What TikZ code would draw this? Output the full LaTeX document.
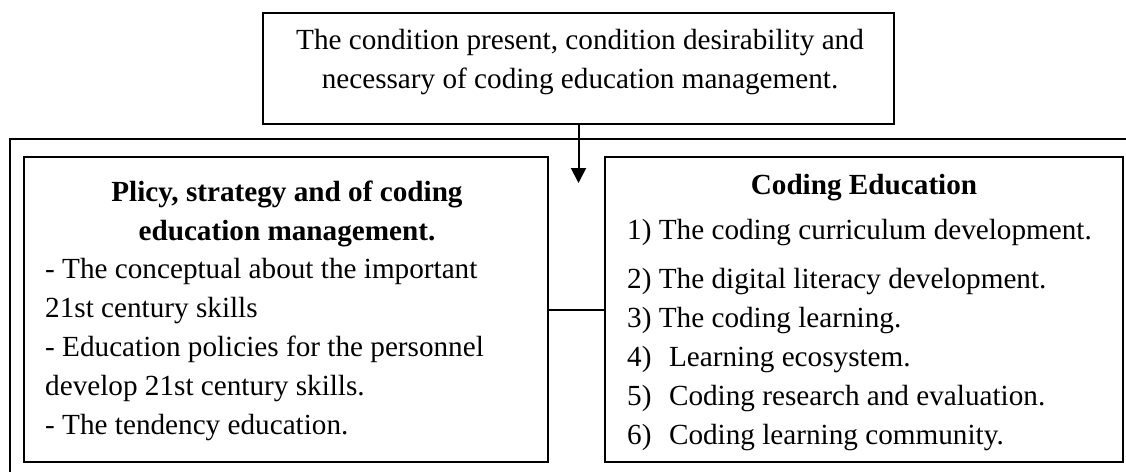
\documentclass[tikz,border=0pt]{standalone}
\usepackage{fontspec}
\setmainfont{Liberation Serif}
\usetikzlibrary{arrows.meta,positioning}

\begin{document}
\begin{tikzpicture}[
    x=1pt, y=-1pt,
    every node/.style={font=\fontsize{29.2}{39}\selectfont},
    mainbox/.style={rectangle, draw, line width=2.6pt, inner sep=0pt},
    boxtext/.style={inner sep=0pt, align=left},
    boxtitle/.style={inner sep=0pt, align=center, font=\fontsize{29.2}{39}\selectfont\bfseries},
    link/.style={line width=2pt},
    arrow/.style={-{Triangle[width=15pt,length=15pt]}, line width=2pt}
]
\useasboundingbox (0,0) rectangle (1126,471);

% Outer frame
\draw[line width=2.6pt] (1140,139) -- (10,139) -- (10,480);

% Main boxes
\node[mainbox, minimum width=631pt, minimum height=111pt] (cond) at (578.5,68.5) {};
\node[mainbox, minimum width=524pt, minimum height=305pt] (policy) at (286,309.5) {};
\node[mainbox, minimum width=518pt, minimum height=305pt] (coding) at (864,309.5) {};

% Box contents (base anchor = last line)
\node[inner sep=0pt, align=center, anchor=base] (condtext) at (580,88)
    {The condition present, condition desirability and\\necessary of coding education management.};
\node[boxtitle, anchor=base] (policytitle) at (287,240)
    {Plicy, strategy and of coding\\education management.};
\node[boxtext, anchor=base west] (policylist) at (45,434)
    {- The conceptual about the important\\
     21st century skills\\
     - Education policies for the personnel\\
     develop 21st century skills.\\
     - The tendency education.};
\node[boxtitle, anchor=base] (codingtitle) at (864,194) {Coding Education};
\node[boxtext, anchor=base west] (codinglist) at (627,444)
    {1) The coding curriculum development.\\[10pt]
     2) The digital literacy development.\\
     3) The coding learning.\\
     4)\hspace{0.6em}Learning ecosystem.\\
     5)\hspace{0.6em}Coding research and evaluation.\\
     6)\hspace{0.6em}Coding learning community.};

% Connectors
\coordinate (tip) at (578.5,183);
\draw[arrow] (cond.south) -- (tip);
\draw[link] (policy.east) -- (coding.west);

\end{tikzpicture}
\end{document}
